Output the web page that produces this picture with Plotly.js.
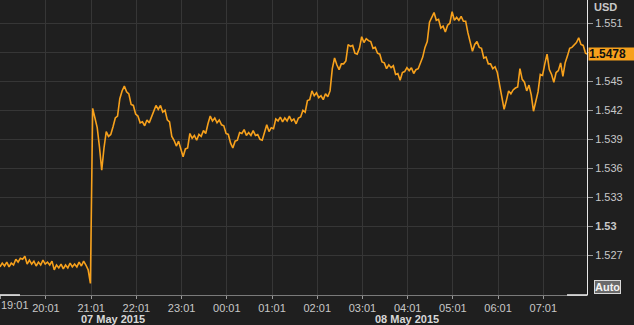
<!DOCTYPE html>
<html>
<head>
<meta charset="utf-8">
<script src="https://cdn.plot.ly/plotly-3.0.1.min.js"></script>
<style>
  html, body { margin: 0; padding: 0; background: #1f1f1f; }
  #chart { width: 634px; height: 325px; }
</style>
</head>
<body>
<div id="chart"></div>
<script>
// ---- data (GBP/USD, 3-minute samples from 07 May 2015 19:00) ----
const seriesStart = Date.UTC(2015, 4, 7, 19, 0);
const stepMinutes = 3;
const prices = [
  1.5258,1.5262,1.5259,1.5263,1.5258,1.5262,1.5260,1.5266,1.5263,1.5267,
  1.5266,1.5269,1.5261,1.5265,1.5261,1.5264,1.5259,1.5263,1.5260,1.5265,
  1.5261,1.5263,1.5260,1.5264,1.5255,1.5260,1.5257,1.5261,1.5256,1.5260,
  1.5257,1.5262,1.5258,1.5261,1.5258,1.5263,1.5259,1.5264,1.5260,1.5255,
  1.5241,1.5422,1.5412,1.5402,1.5382,1.5358,1.5381,1.5398,1.5393,1.5395,
  1.5403,1.5412,1.5414,1.5432,1.5440,1.5445,1.5439,1.5437,1.5426,1.5425,
  1.5416,1.5414,1.5407,1.5408,1.5404,1.5410,1.5407,1.5413,1.5417,1.5425,
  1.5421,1.5425,1.5418,1.5420,1.5410,1.5408,1.5393,1.5389,1.5383,1.5388,
  1.5380,1.5372,1.5380,1.5381,1.5396,1.5391,1.5394,1.5389,1.5395,1.5393,
  1.5399,1.5396,1.5406,1.5414,1.5409,1.5412,1.5407,1.5410,1.5405,1.5404,
  1.5396,1.5395,1.5386,1.5381,1.5388,1.5389,1.5397,1.5396,1.5400,1.5394,
  1.5397,1.5394,1.5399,1.5394,1.5395,1.5390,1.5389,1.5397,1.5405,1.5398,
  1.5402,1.5401,1.5411,1.5409,1.5413,1.5408,1.5412,1.5409,1.5414,1.5409,
  1.5411,1.5406,1.5412,1.5413,1.5420,1.5418,1.5430,1.5431,1.5440,1.5435,
  1.5438,1.5433,1.5435,1.5431,1.5437,1.5434,1.5440,1.5463,1.5474,1.5467,
  1.5462,1.5468,1.5468,1.5471,1.5488,1.5486,1.5487,1.5479,1.5478,1.5484,
  1.5496,1.5490,1.5494,1.5492,1.5491,1.5484,1.5485,1.5479,1.5478,1.5470,
  1.5469,1.5463,1.5467,1.5464,1.5466,1.5457,1.5458,1.5451,1.5459,1.5460,
  1.5464,1.5461,1.5464,1.5458,1.5462,1.5463,1.5470,1.5475,1.5485,1.5491,
  1.5511,1.5516,1.5521,1.5513,1.5514,1.5505,1.5507,1.5501,1.5508,1.5510,
  1.5522,1.5513,1.5516,1.5513,1.5517,1.5512,1.5512,1.5500,1.5489,1.5481,
  1.5488,1.5491,1.5485,1.5484,1.5474,1.5475,1.5468,1.5468,1.5463,1.5465,
  1.5459,1.5446,1.5434,1.5421,1.5430,1.5440,1.5437,1.5441,1.5443,1.5444,
  1.5463,1.5452,1.5449,1.5440,1.5446,1.5436,1.5419,1.5429,1.5439,1.5457,
  1.5456,1.5468,1.5478,1.5462,1.5457,1.5449,1.5459,1.5461,1.5469,1.5455,
  1.5469,1.5476,1.5484,1.5485,1.5487,1.5490,1.5495,1.5488,1.5487,1.5479,
  1.5478
];
const lastPrice = 1.5478;
const currencyLabel = 'USD';

const xTickTimes = [
  '2015-05-07 19:01','2015-05-07 20:01','2015-05-07 21:01','2015-05-07 22:01','2015-05-07 23:01',
  '2015-05-08 00:01','2015-05-08 01:01','2015-05-08 02:01','2015-05-08 03:01','2015-05-08 04:01',
  '2015-05-08 05:01','2015-05-08 06:01','2015-05-08 07:01'
];
const xTickLabels = ['','20:01','21:01','22:01','23:01','00:01','01:01','02:01','03:01','04:01','05:01','06:01','07:01'];
const firstTickLabel = '19:01';
const dayLabels = ['07 May 2015', '08 May 2015'];
const dayLabelTimes = ['2015-05-07 21:30', '2015-05-08 04:00'];

const yTickVals = [1.527, 1.530, 1.533, 1.536, 1.539, 1.542, 1.545, 1.548, 1.551];
const yTickText = ['1.527', '<b>1.53</b>', '1.533', '1.536', '1.539', '1.542', '1.545', '', '1.551'];

// ---- build ----
function fmt(ms) {
  return new Date(ms).toISOString().slice(0, 16).replace('T', ' ');
}
const times = prices.map((_, i) => fmt(seriesStart + i * stepMinutes * 60000));

const orange = '#f7a11c';
const txt = '#c8c8c8';
const font = 'Liberation Sans, Arial, sans-serif';

const trace = {
  x: times, y: prices, type: 'scatter', mode: 'lines',
  line: { color: orange, width: 1.6 },
  hoverinfo: 'skip'
};

const layout = {
  width: 634, height: 325,
  margin: { l: 0, r: 47, t: 0, b: 30 },
  paper_bgcolor: '#1f1f1f', plot_bgcolor: '#1f1f1f',
  showlegend: false,
  font: { family: font, size: 11, color: txt },
  xaxis: {
    type: 'date',
    range: ['2015-05-07 19:00', '2015-05-08 07:59'],
    tickmode: 'array', tickvals: xTickTimes, ticktext: xTickLabels,
    showgrid: true, gridcolor: '#363636', gridwidth: 1,
    showline: true, linecolor: '#7a7a7a', linewidth: 1,
    ticks: 'outside', ticklen: 3, tickcolor: '#9a9a9a',
    tickfont: { family: font, size: 11, color: txt },
    zeroline: false, fixedrange: true
  },
  yaxis: {
    side: 'right',
    range: [1.5229, 1.5534],
    tickmode: 'array', tickvals: yTickVals, ticktext: yTickText,
    showgrid: true, gridcolor: '#363636', gridwidth: 1,
    showline: true, linecolor: '#e8e8e8', linewidth: 1,
    ticks: 'outside', ticklen: 5, tickcolor: '#9a9a9a',
    tickfont: { family: font, size: 11, color: txt },
    zeroline: false, fixedrange: true
  },
  shapes: [
    { type: 'line', xref: 'paper', yref: 'paper', x0: 0, x1: 0.034, y0: 0, y1: 0, line: { color: '#f0f0f0', width: 1.5 } },
    { type: 'line', xref: 'paper', yref: 'paper', x0: 0.966, x1: 1, y0: 0, y1: 0, line: { color: '#f0f0f0', width: 1.5 } }
  ],
  annotations: [
    { text: '<b>' + currencyLabel + '</b>', xref: 'paper', yref: 'paper', x: 1, y: 1, xanchor: 'left', yanchor: 'top',
      xshift: 5, yshift: 1, showarrow: false, font: { family: font, size: 11, color: txt } },
    { text: '<b>' + lastPrice.toFixed(4) + '</b>', xref: 'paper', yref: 'y', x: 1, y: lastPrice, xanchor: 'left', yanchor: 'middle',
      xshift: 1, showarrow: false, bgcolor: orange, width: 46, height: 12, align: 'left', borderpad: 0,
      font: { family: font, size: 12, color: '#111' } },
    { text: '<b>Auto</b>', xref: 'paper', yref: 'paper', x: 1, y: 0, xanchor: 'left', yanchor: 'bottom',
      xshift: 7, yshift: 1, showarrow: false, bgcolor: '#6a6a6a', bordercolor: '#d8d8d8', borderwidth: 1, borderpad: 0,
      font: { family: font, size: 11, color: '#f2f2f2' } },
    { text: firstTickLabel, xref: 'paper', yref: 'paper', x: 0, y: 0, xanchor: 'left', yanchor: 'top',
      yshift: -3, borderpad: 0, showarrow: false, font: { family: font, size: 11, color: txt } },
    { text: '<b>' + dayLabels[0] + '</b>', xref: 'x', yref: 'paper', x: dayLabelTimes[0], y: 0, xanchor: 'center', yanchor: 'top',
      yshift: -17, borderpad: 0, showarrow: false, font: { family: font, size: 11, color: '#d8d8d8' } },
    { text: '<b>' + dayLabels[1] + '</b>', xref: 'x', yref: 'paper', x: dayLabelTimes[1], y: 0, xanchor: 'center', yanchor: 'top',
      yshift: -17, borderpad: 0, showarrow: false, font: { family: font, size: 11, color: '#d8d8d8' } }
  ]
};

Plotly.newPlot('chart', [trace], layout, { staticPlot: true, displayModeBar: false });
</script>
</body>
</html>
